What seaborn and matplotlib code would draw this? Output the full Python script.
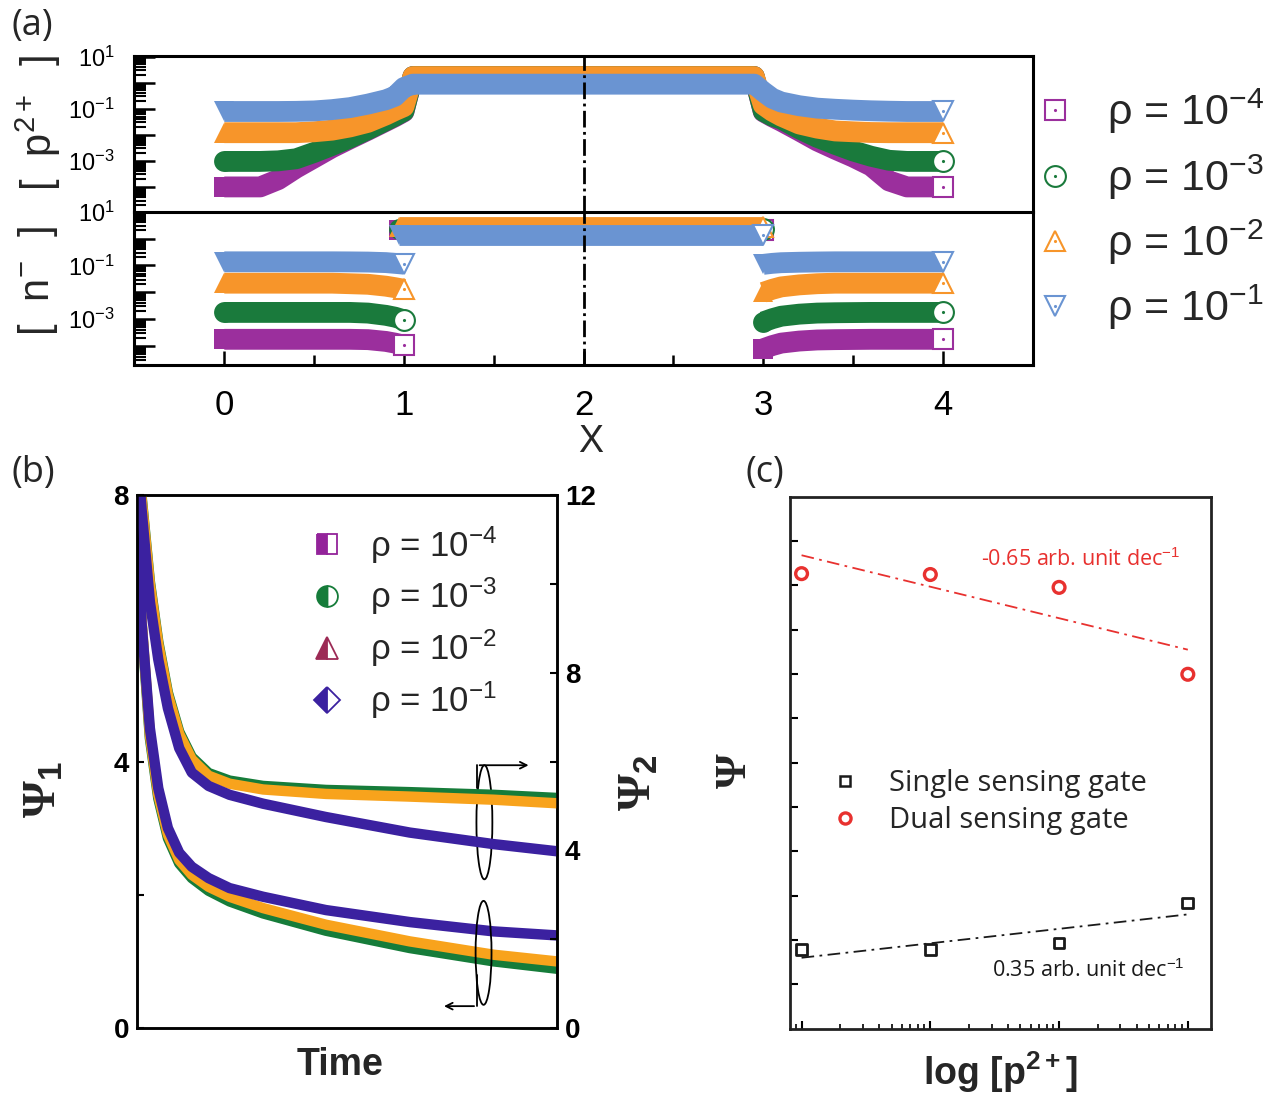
import numpy as np
import matplotlib
matplotlib.use("Agg")
import matplotlib.pyplot as plt
from matplotlib.lines import Line2D
from matplotlib.patches import Ellipse
from matplotlib.ticker import LogLocator, NullFormatter, FixedLocator
import seaborn as sns

# ---------------- (a) concentration profiles ----------------
rho_text = [r"ρ = 10$^{-4}$", r"ρ = 10$^{-3}$", r"ρ = 10$^{-2}$", r"ρ = 10$^{-1}$"]

x_p = [0.0, 0.1, 0.2, 0.3, 0.4, 0.5, 0.6, 0.7, 0.8, 0.9, 0.95, 1.0, 1.05,
       2.0, 2.95, 3.0, 3.05, 3.1, 3.2, 3.3, 3.4, 3.5, 3.6, 3.7, 3.8, 3.9, 4.0]
p_rho4 = [1e-4, 1e-4, 1e-4, 1.9e-4, 5.3e-4, 1.3e-3, 3.2e-3, 7e-3, 0.015, 0.033, 0.049, 0.076, 1.7,
          1.7, 1.7, 0.076, 0.049, 0.033, 0.014, 5.8e-3, 2.8e-3, 1.4e-3, 6.4e-4, 1.7e-4, 1e-4, 1e-4, 1e-4]
p_rho3 = [9.5e-4, 9.5e-4, 9.5e-4, 1e-3, 1.2e-3, 2.1e-3, 3.9e-3, 7.6e-3, 0.016, 0.035, 0.052, 0.08, 1.7,
          1.7, 1.7, 0.08, 0.052, 0.04, 0.017, 8e-3, 4.3e-3, 2.4e-3, 1.5e-3, 1.05e-3, 9.5e-4, 9.5e-4, 9.5e-4]
p_rho2 = [0.012, 0.012, 0.012, 0.012, 0.012, 0.013, 0.015, 0.02, 0.03, 0.058, 0.085, 0.12, 1.7,
          1.7, 1.7, 0.14, 0.08, 0.052, 0.026, 0.018, 0.014, 0.013, 0.0122, 0.012, 0.012, 0.012, 0.012]
p_rho1 = [0.078, 0.078, 0.078, 0.078, 0.079, 0.082, 0.092, 0.11, 0.15, 0.22, 0.3, 0.65, 0.87,
          0.87, 0.87, 0.45, 0.25, 0.18, 0.13, 0.105, 0.095, 0.088, 0.083, 0.08, 0.078, 0.078, 0.078]

x_n_left = [0.0, 0.2, 0.4, 0.6, 0.7, 0.8, 0.9, 0.95, 1.0]
x_n_mid = [0.97, 2.0, 3.0]
x_n_right = [3.0, 3.05, 3.1, 3.2, 3.3, 3.4, 3.6, 3.8, 4.0]

n_rho4_left = [1.8e-4, 1.8e-4, 1.8e-4, 1.8e-4, 1.8e-4, 1.75e-4, 1.5e-4, 1.3e-4, 1.08e-4]
n_rho3_left = [1.8e-3, 1.8e-3, 1.8e-3, 1.8e-3, 1.8e-3, 1.7e-3, 1.4e-3, 1.2e-3, 9.5e-4]
n_rho2_left = [0.022, 0.022, 0.022, 0.022, 0.021, 0.02, 0.017, 0.015, 0.013]
n_rho1_left = [0.137, 0.137, 0.137, 0.137, 0.136, 0.134, 0.128, 0.12, 0.112]

n_rho4_mid = [2.0, 2.0, 2.0]
n_rho3_mid = [2.2, 2.2, 2.2]
n_rho2_mid = [2.6, 2.6, 2.6]
n_rho1_mid = [1.36, 1.36, 1.36]

n_rho4_right = [8e-5, 1.05e-4, 1.3e-4, 1.55e-4, 1.7e-4, 1.75e-4, 1.8e-4, 1.8e-4, 1.8e-4]
n_rho3_right = [8e-4, 1.05e-3, 1.3e-3, 1.55e-3, 1.7e-3, 1.75e-3, 1.8e-3, 1.8e-3, 1.8e-3]
n_rho2_right = [0.01, 0.013, 0.016, 0.019, 0.021, 0.022, 0.022, 0.022, 0.022]
n_rho1_right = [0.11, 0.12, 0.127, 0.132, 0.135, 0.137, 0.137, 0.137, 0.137]

x_ticks_a = [0, 1, 2, 3, 4]
decades = [1e1, 1e0, 1e-1, 1e-2, 1e-3, 1e-4, 1e-5]
decade_labels = [r"10$^{1}$", "", r"10$^{-1}$", "", r"10$^{-3}$", "", ""]

# ---------------- (b) transients ----------------
t_b = [0.003, 0.01, 0.03, 0.05, 0.073, 0.1, 0.13, 0.17, 0.22, 0.3, 0.45, 0.65, 0.85, 1.0]
psi1_green = [7.6, 6.1, 4.35, 3.45, 2.85, 2.47, 2.25, 2.06, 1.9, 1.72, 1.46, 1.2, 1.0, 0.89]
psi1_orange = [7.7, 6.15, 4.4, 3.5, 2.9, 2.52, 2.3, 2.12, 1.97, 1.8, 1.55, 1.3, 1.1, 1.0]
psi1_blue = [7.5, 6.1, 4.5, 3.6, 3.0, 2.63, 2.42, 2.25, 2.1, 1.97, 1.77, 1.59, 1.45, 1.39]
psi2_green = [12.9, 12.0, 10.05, 8.7, 7.55, 6.67, 6.1, 5.74, 5.57, 5.45, 5.36, 5.31, 5.25, 5.18]
psi2_orange = [12.9, 11.95, 10.0, 8.65, 7.5, 6.62, 6.05, 5.68, 5.5, 5.37, 5.27, 5.21, 5.14, 5.06]
psi2_blue = [12.6, 11.7, 9.6, 8.3, 7.2, 6.3, 5.75, 5.45, 5.25, 5.05, 4.75, 4.4, 4.14, 3.98]

# ---------------- (c) sensitivity ----------------
p_conc = [1, 10, 100, 1000]
psi_single = [1.79, 1.79, 1.93, 2.83]
psi_dual = [10.26, 10.24, 9.95, 7.99]
gate_labels = ["Single sensing gate", "Dual sensing gate"]

# ---------------- style ----------------
sns.set_theme(style="ticks")
plt.rcParams["font.family"] = ["Liberation Sans", "DejaVu Sans"]
plt.rcParams["mathtext.fontset"] = "custom"
plt.rcParams["mathtext.rm"] = "Liberation Sans"
plt.rcParams["mathtext.it"] = "Liberation Sans:italic"
plt.rcParams["mathtext.bf"] = "Liberation Sans:bold"
plt.rcParams["axes.edgecolor"] = "black"
plt.rcParams["xtick.color"] = "black"
plt.rcParams["ytick.color"] = "black"

purple_a, green_a, orange_a, blue_a = "#9b2f9d", "#1a7a3c", "#f7952a", "#6a94d2"
blue_b, orange_b, green_b = "#3b21a0", "#f8a31c", "#167c3a"
purple_b, maroon_b = "#93239a", "#9c2a55"
red_c, black_c = "#e8312f", "#1a1a1a"
serif = ["Liberation Serif", "DejaVu Serif"]

fig = plt.figure(figsize=(12.72, 10.94), dpi=100)
fig.patch.set_facecolor("white")


def draw_band(ax, x, y, color, marker, ms=15.0):
    ax.plot(x[:1], y[:1], ls="none", marker=marker, ms=ms, color=color, mew=0)
    sns.lineplot(x=x, y=y, ax=ax, color=color, linewidth=ms, sort=False, errorbar=None,
                 solid_capstyle="butt", solid_joinstyle="round")
    ax.plot(x[-1:], y[-1:], ls="none", marker=marker, ms=ms, mfc="white", mec=color, mew=1.5)
    ax.plot(x[-1:], y[-1:], ls="none", marker=".", ms=2.5, color=color)


ax_up = fig.add_axes([0.1057, 0.80649, 0.7062, 0.14232])
ax_lo = fig.add_axes([0.1057, 0.66636, 0.7062, 0.14013])

for ax in (ax_up, ax_lo):
    ax.set_yscale("log")
    ax.set_xlim(-0.5, 4.5)
    for s in ax.spines.values():
        s.set_linewidth(2.2)
    ax.yaxis.set_major_locator(FixedLocator(decades))
    ax.set_yticklabels(decade_labels)
    ax.yaxis.set_minor_locator(LogLocator(base=10, subs=np.arange(2, 10), numticks=100))
    ax.yaxis.set_minor_formatter(NullFormatter())
    ax.tick_params(axis="y", which="major", direction="in", length=15, width=1.8,
                   labelsize=17, pad=14, right=False)
    ax.tick_params(axis="y", which="minor", direction="in", length=8.6, width=1.5, right=False)
    ax.axvline(2, color="black", lw=2, dashes=(6, 1.6, 1, 1.6), zorder=5)

ax_up.set_ylim(10 ** -4.95, 10 ** 1.02)
ax_lo.set_ylim(10 ** -4.7, 10 ** 1.0)
ax_up.spines["bottom"].set_visible(False)
ax_up.tick_params(axis="x", which="both", bottom=False, top=False, labelbottom=False)

rows_a = [("s", purple_a, 14), ("o", green_a, 15), ("^", orange_a, 15), ("v", blue_a, 15)]
p_series = [p_rho4, p_rho3, p_rho2, p_rho1]
n_left = [n_rho4_left, n_rho3_left, n_rho2_left, n_rho1_left]
n_mid = [n_rho4_mid, n_rho3_mid, n_rho2_mid, n_rho1_mid]
n_right = [n_rho4_right, n_rho3_right, n_rho2_right, n_rho1_right]

for (mk, col, _), ys in zip(rows_a, p_series):
    draw_band(ax_up, x_p, ys, col, mk)
for (mk, col, _), ys in zip(rows_a, n_left):
    draw_band(ax_lo, x_n_left, ys, col, mk)
for (mk, col, _), ys in zip(rows_a, n_mid):
    draw_band(ax_lo, x_n_mid, ys, col, mk)
for (mk, col, _), ys in zip(rows_a, n_right):
    draw_band(ax_lo, x_n_right, ys, col, mk)

ax_lo.set_xticks(x_ticks_a)
ax_lo.set_xticks([0.5, 1.5, 2.5, 3.5], minor=True)
ax_lo.tick_params(axis="x", which="major", direction="in", length=10.4, width=1.8,
                  labelsize=25, pad=17, top=False)
ax_lo.tick_params(axis="x", which="minor", direction="in", length=7, width=1.8, top=False)
ax_lo.set_xlabel("X", fontsize=27, va="center")
ax_lo.xaxis.set_label_coords(0.5075, -0.5)

ax_up.set_ylabel("[  p$^{2+}$  ]", fontsize=30, va="center")
ax_up.yaxis.set_label_coords(-0.107, 0.57)
ax_lo.set_ylabel("[  n$^{-}$  ]", fontsize=30, va="center")
ax_lo.yaxis.set_label_coords(-0.107, 0.55)

a_handles = [(Line2D([], [], ls="none", marker=mk, ms=ms, mfc="white", mec=col, mew=1.5),
              Line2D([], [], ls="none", marker=".", ms=2.5, color=col)) for mk, col, ms in rows_a]
fig.legend(a_handles, rho_text, loc="upper left", bbox_to_anchor=(0.8125, 0.9205),
           bbox_transform=fig.transFigure, frameon=False, fontsize=31, handlelength=1.0,
           handletextpad=0.7, labelspacing=0.37, borderpad=0, borderaxespad=0)

# ---------------- (b) ----------------
ax_b = fig.add_axes([0.10794, 0.06033, 0.32956, 0.48720])
ax_b2 = ax_b.twinx()
for s in list(ax_b.spines.values()) + list(ax_b2.spines.values()):
    s.set_linewidth(1.8)

sns.lineplot(x=t_b, y=psi1_green, ax=ax_b, color=green_b, linewidth=7.5, errorbar=None)
sns.lineplot(x=t_b, y=psi1_orange, ax=ax_b, color=orange_b, linewidth=7.5, errorbar=None)
sns.lineplot(x=t_b, y=psi1_blue, ax=ax_b, color=blue_b, linewidth=7.5, errorbar=None)
sns.lineplot(x=t_b, y=psi2_green, ax=ax_b2, color=green_b, linewidth=7.5, errorbar=None)
sns.lineplot(x=t_b, y=psi2_orange, ax=ax_b2, color=orange_b, linewidth=7.5, errorbar=None)
sns.lineplot(x=t_b, y=psi2_blue, ax=ax_b2, color=blue_b, linewidth=7.5, errorbar=None)

ax_b.set_xlim(0, 1)
ax_b.set_ylim(0, 8)
ax_b2.set_ylim(0, 12)
ax_b.set_xticks([])
ax_b.set_yticks([0, 4, 8])
ax_b.set_yticklabels(["0", "4", "8"], fontweight="bold")
ax_b.set_yticks([2, 6], minor=True)
ax_b2.set_yticks([0, 4, 8, 12])
ax_b2.set_yticklabels(["0", "4", "8", "12"], fontweight="bold")
ax_b2.set_yticks([2, 6, 10], minor=True)
ax_b.tick_params(axis="y", which="both", direction="in", length=5, width=1.5,
                 labelsize=20, pad=6, left=True, right=False)
ax_b2.tick_params(axis="y", which="both", direction="in", length=5, width=1.5,
                  labelsize=20, pad=6, left=False, right=True)

ax_b.set_xlabel("Time", fontsize=27, fontweight="bold", va="center")
ax_b.xaxis.set_label_coords(0.483, -0.07)
ax_b.set_ylabel("Ψ$_{\\mathbf{1}}$", fontsize=34, fontweight="bold", family=serif, va="center")
ax_b.yaxis.set_label_coords(-0.221, 0.448)
ax_b2.set_ylabel("Ψ$_{\\mathbf{2}}$", fontsize=34, fontweight="bold", family=serif,
                 va="center", rotation=90)
ax_b2.yaxis.set_label_coords(1.198, 0.46)

ax_b2.add_patch(Ellipse((0.828, 0.386), 0.038, 0.214, transform=ax_b2.transAxes,
                        fill=False, ec="black", lw=1.3))
ax_b2.add_patch(Ellipse((0.826, 0.141), 0.038, 0.195, transform=ax_b2.transAxes,
                        fill=False, ec="black", lw=1.3))
ax_b2.plot([0.81, 0.81], [0.45, 0.493], color="black", lw=1.3, transform=ax_b2.transAxes)
ax_b2.annotate("", xy=(0.94, 0.493), xytext=(0.81, 0.493), xycoords="axes fraction",
               arrowprops=dict(arrowstyle="->", lw=1.3, color="black"))
ax_b2.plot([0.81, 0.81], [0.1, 0.041], color="black", lw=1.3, transform=ax_b2.transAxes)
ax_b2.annotate("", xy=(0.725, 0.041), xytext=(0.81, 0.041), xycoords="axes fraction",
               arrowprops=dict(arrowstyle="->", lw=1.3, color="black"))

rows_b = [("s", purple_b, 14), ("o", green_b, 15), ("^", maroon_b, 16), ("D", blue_b, 13)]
b_handles = [Line2D([], [], ls="none", marker=mk, ms=ms, mfc=col, markerfacecoloralt="white",
                    mec=col, mew=1.3, fillstyle="left") for mk, col, ms in rows_b]
ax_b2.legend(b_handles, rho_text, loc="upper left", bbox_to_anchor=(0.2434, 0.521),
             bbox_transform=fig.transFigure, frameon=False, fontsize=25, handlelength=1.0,
             handletextpad=0.74, labelspacing=0.3, borderpad=0, borderaxespad=0)

# ---------------- (c) ----------------
ax_c = fig.add_axes([0.62146, 0.05987, 0.33058, 0.48629])
ax_c.set_xscale("log")
for s in ax_c.spines.values():
    s.set_linewidth(2.0)
    s.set_color("#222222")

sns.regplot(x=p_conc, y=psi_single, ax=ax_c, logx=True, ci=None, marker="s", color=black_c,
            scatter_kws=dict(s=60, facecolors="none", linewidths=2.0, alpha=1, zorder=3),
            line_kws=dict(lw=1.3, dashes=(7, 3, 1.5, 3)))
sns.regplot(x=p_conc, y=psi_dual, ax=ax_c, logx=True, ci=None, marker="o", color=red_c,
            scatter_kws=dict(s=72, facecolors="none", linewidths=2.4, alpha=1, zorder=3),
            line_kws=dict(lw=1.3, dashes=(7, 3, 1.5, 3)))

ax_c.set_xlim(10 ** -0.086, 10 ** 3.18)
ax_c.set_ylim(0, 12)
ax_c.set_yticks(range(1, 12))
ax_c.yaxis.set_major_formatter(NullFormatter())
ax_c.xaxis.set_major_locator(LogLocator(base=10, numticks=100))
ax_c.xaxis.set_minor_locator(LogLocator(base=10, subs=np.arange(2, 10), numticks=100))
ax_c.xaxis.set_major_formatter(NullFormatter())
ax_c.xaxis.set_minor_formatter(NullFormatter())
ax_c.tick_params(axis="y", which="both", direction="in", length=6, width=1.5, right=False)
ax_c.tick_params(axis="x", which="major", direction="in", length=6, width=1.5, top=False)
ax_c.tick_params(axis="x", which="minor", direction="in", length=3.5, width=1.2, top=False)

ax_c.set_xlabel("log [p$^{\\mathbf{2+}}$]", fontsize=27, fontweight="bold", va="center")
ax_c.xaxis.set_label_coords(0.498, -0.082)
ax_c.set_ylabel("Ψ", fontsize=32, fontweight="bold", family=serif, va="center")
ax_c.yaxis.set_label_coords(-0.132, 0.485)

ax_c.text(0.453, 0.8817, "-0.65 arb. unit dec$^{-1}$", transform=ax_c.transAxes, color=red_c,
          fontsize=15.5, family=["Open Sans", "DejaVu Sans"], va="center", ha="left")
ax_c.text(0.479, 0.108, "0.35 arb. unit dec$^{-1}$", transform=ax_c.transAxes, color=black_c,
          fontsize=15.5, family=["Open Sans", "DejaVu Sans"], va="center", ha="left")

c_handles = [Line2D([], [], ls="none", marker="s", ms=7.5, mfc="none", mec=black_c, mew=1.8),
             Line2D([], [], ls="none", marker="o", ms=8, mfc="none", mec=red_c, mew=2.4)]
ax_c.legend(c_handles, gate_labels, loc="upper left", bbox_to_anchor=(0.095, 0.488),
            frameon=False, prop={"family": "Open Sans", "size": 21}, handlelength=1.0,
            handletextpad=1.0, labelspacing=0.28, borderpad=0, borderaxespad=0)

# panel letters
for txt, xx, yy in [("(a)", 0.0094, 0.9927), ("(b)", 0.0094, 0.584), ("(c)", 0.5857, 0.584)]:
    fig.text(xx, yy, txt, fontsize=26, family=["Open Sans", "DejaVu Sans"], va="top", ha="left")

fig.savefig("out.png", dpi=100, facecolor="white")
